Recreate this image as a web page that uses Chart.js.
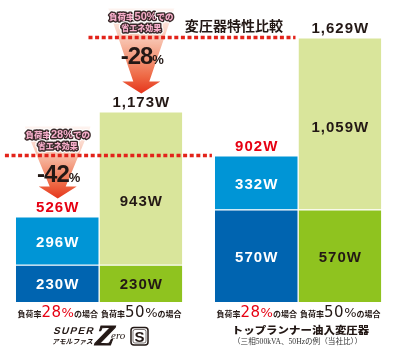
<!DOCTYPE html>
<html><head><meta charset="utf-8">
<script src="https://cdn.jsdelivr.net/npm/chart.js@4/dist/chart.umd.min.js"></script>
<style>html,body{margin:0;padding:0;background:#fff;}canvas{display:block;}</style>
</head><body>
<canvas id="c" width="400" height="360"></canvas>
<script>
// ---- data ----
const categories = ['SUPERアモルファスZero S', 'トップランナー油入変圧器'];
const loadRates = ['28', '50'];
const noLoadLoss28 = [230, 570];
const loadLoss28 = [296, 332];
const noLoadLoss50 = [230, 570];
const loadLoss50 = [943, 1059];
const chartTitle = '変圧器特性比較';
const productNote = '（三相500kVA、50Hzの例（当社比））';

// ---- styles ----
const DARK = '#231815', RED = '#e60012';
const C = { base28: '#0064b0', top28: '#0095d6', base50: '#8fc31f', top50: '#d9e59b' };
const fmt = v => v.toLocaleString('en-US') + 'W';

function measure(ctx, p) { ctx.font = p.font; ctx.letterSpacing = p.ls || '0px'; return ctx.measureText(p.t).width; }
function composite(ctx, parts, x, y, opts) {
  opts = opts || {};
  let total = 0; parts.forEach(p => { p.w = measure(ctx, p); total += p.w; });
  ctx.save();
  ctx.translate(x, y); ctx.scale(opts.sx || 1, 1);
  let cx = -total / 2;
  ctx.textAlign = 'left'; ctx.textBaseline = 'alphabetic';
  parts.forEach(p => {
    ctx.font = p.font; ctx.letterSpacing = p.ls || '0px';
    if (opts.outline) {
      ctx.lineJoin = 'round';
      ctx.strokeStyle = '#ffffff'; ctx.lineWidth = 5; ctx.strokeText(p.t, cx, 0);
      ctx.strokeStyle = '#3a2a2a'; ctx.lineWidth = 2.8; ctx.strokeText(p.t, cx, 0);
    }
    ctx.fillStyle = p.color; ctx.fillText(p.t, cx, 0);
    cx += p.w;
  });
  ctx.restore();
}

const decor = {
  id: 'decor',
  afterDatasetsDraw(chart) {
    const ctx = chart.ctx;
    const m = i => chart.getDatasetMeta(i).data;
    const stacks = [[0, 1], [2, 3]]; // [base, top] dataset indices for each load rate
    const totals = [[], []];
    stacks.forEach((s, k) => categories.forEach((c, j) => {
      totals[k][j] = (k === 0 ? noLoadLoss28[j] + loadLoss28[j] : noLoadLoss50[j] + loadLoss50[j]);
    }));

    // arrows + dotted lines
    stacks.forEach((s, k) => {
      const top0 = m(s[1])[0], top1 = m(s[1])[1];
      const lineY = top1.y;
      const cx = top0.x;
      const topY = lineY - 29, tipY = top0.y - 18, headY = tipY - 12;
      const g = ctx.createLinearGradient(0, topY, 0, tipY);
      g.addColorStop(0, 'rgba(253,236,230,0.6)');
      g.addColorStop(0.45, '#f6b39b');
      g.addColorStop(0.8, '#ee6844');
      g.addColorStop(1, '#e5341b');
      ctx.save();
      ctx.fillStyle = g;
      ctx.beginPath();
      ctx.moveTo(cx - 33, topY); ctx.lineTo(cx + 33, topY);
      ctx.lineTo(cx + 8, headY); ctx.lineTo(cx + 19, headY);
      ctx.lineTo(cx, tipY);
      ctx.lineTo(cx - 19, headY); ctx.lineTo(cx - 8, headY);
      ctx.closePath(); ctx.fill();
      ctx.restore();

      // dotted line
      const x0 = top0.x - top0.width / 2 - 11;
      const x1 = top1.x - top1.width / 2 - 3;
      ctx.save();
      ctx.strokeStyle = '#e2231a'; ctx.lineWidth = 3.5; ctx.setLineDash([4, 2.6]);
      ctx.beginPath(); ctx.moveTo(x0, lineY); ctx.lineTo(x1, lineY); ctx.stroke();
      ctx.restore();

      // effect bubble text
      composite(ctx, [
        { t: '負荷率', font: '900 8.5px "Noto Sans CJK JP"', color: '#f7aecb' },
        { t: loadRates[k] + '%', font: 'bold 11px "Liberation Sans"', color: '#f7aecb' },
        { t: 'での', font: '900 8.5px "Noto Sans CJK JP"', color: '#f7aecb' }
      ], cx, lineY - 17.5, { outline: true });
      composite(ctx, [
        { t: '省エネ効果', font: '900 8px "Noto Sans CJK JP"', color: '#f7aecb' }
      ], cx, lineY - 7, { outline: true });

      // reduction percentage
      const pct = Math.round((1 - totals[k][0] / totals[k][1]) * 100);
      composite(ctx, [
        { t: '-' + pct, font: 'bold 24px "Liberation Sans"', color: DARK, ls: '-1px' },
        { t: '%', font: 'bold 13px "Liberation Sans"', color: DARK }
      ], cx + 1, lineY + 26);
    });

    // segment labels + totals
    ctx.save();
    ctx.textAlign = 'center';
    stacks.forEach((s, k) => categories.forEach((c, j) => {
      const base = m(s[0])[j], top = m(s[1])[j];
      const baseVal = k === 0 ? noLoadLoss28[j] : noLoadLoss50[j];
      const topVal = k === 0 ? loadLoss28[j] : loadLoss50[j];
      const txtCol = k === 0 ? '#ffffff' : DARK;
      ctx.font = 'bold 15px "Liberation Sans"'; ctx.letterSpacing = '1px';
      ctx.textBaseline = 'middle';
      ctx.fillStyle = txtCol;
      ctx.fillText(fmt(baseVal), base.x, (base.y + base.base) / 2 + 2);
      const ty = k === 0 ? (top.y + top.base) / 2 + 2 : top.y + 90;
      ctx.fillText(fmt(topVal), top.x, ty);
      ctx.textBaseline = 'alphabetic';
      ctx.fillStyle = k === 0 ? RED : DARK;
      ctx.fillText(fmt(totals[k][j]), top.x, top.y - 5);

      // bottom load-rate labels
      const col = k === 0 ? RED : DARK;
      composite(ctx, [
        { t: '負荷率', font: 'bold 8px "Noto Sans CJK JP"', color: DARK },
        { t: loadRates[k], font: '15px "DejaVu Sans"', color: col, ls: '0.5px' },
        { t: '%', font: '13px "DejaVu Sans"', color: col },
        { t: 'の場合', font: 'bold 8px "Noto Sans CJK JP"', color: DARK }
      ], top.x, 317);
    }));
    ctx.restore();

    // title
    composite(ctx, [{ t: chartTitle, font: 'bold 13.5px "Noto Sans CJK JP"', color: DARK }], 234, 30.5, { sx: 1.04 });

    // category 1 name + note
    const c1 = (m(0)[1].x + m(2)[1].x) / 2;
    composite(ctx, [{ t: categories[1], font: '900 9.8px "Noto Sans CJK JP"', color: DARK }], c1 + 2, 334, { sx: 1.17 });
    composite(ctx, [{ t: productNote, font: '7.6px "Liberation Serif", "Noto Sans CJK JP"', color: '#333' }], c1 - 1, 343.5);

    // category 0 logo (SUPER アモルファス Zero S)
    const c0 = (m(0)[0].x + m(2)[0].x) / 2;
    const x0 = c0 - 47.5;
    ctx.save();
    ctx.fillStyle = DARK; ctx.textAlign = 'left'; ctx.textBaseline = 'alphabetic';
    ctx.save(); ctx.translate(x0, 334); ctx.transform(1, 0, -0.28, 1, 0, 0);
    ctx.font = '900 10px "Liberation Sans"'; ctx.letterSpacing = '1.3px';
    ctx.fillText('SUPER', 1, 0); ctx.restore();
    ctx.save(); ctx.translate(x0, 343.5); ctx.transform(1, 0, -0.25, 1, 0, 0);
    ctx.font = 'bold 6.8px "Noto Sans CJK JP"'; ctx.letterSpacing = '0px';
    ctx.fillText('アモルファス', 0, 0); ctx.restore();
    ctx.save(); ctx.translate(x0 + 41, 345); ctx.transform(1, 0, -0.3, 1, 0, 0);
    ctx.font = 'bold 29px "Liberation Serif"';
    ctx.strokeStyle = DARK; ctx.lineWidth = 1; ctx.strokeText('Z', 0, 0); ctx.fillText('Z', 0, 0); ctx.restore();
    ctx.font = 'italic 11px "Liberation Serif"';
    ctx.fillText('ero', x0 + 59, 339);
    ctx.strokeStyle = DARK; ctx.lineWidth = 1.5;
    ctx.beginPath(); ctx.roundRect(x0 + 79, 327.5, 17, 17.5, 3); ctx.stroke();
    ctx.lineWidth = 0.6;
    ctx.beginPath(); ctx.roundRect(x0 + 81, 329.5, 13, 13.5, 2); ctx.stroke();
    ctx.font = 'bold 15px "Liberation Sans"'; ctx.textAlign = 'center';
    ctx.fillText('S', x0 + 87.5, 341.5);
    ctx.restore();
  }
};

const bw = { top: 1, right: 1, left: 0, bottom: 0 };
new Chart(document.getElementById('c'), {
  type: 'bar',
  data: {
    labels: categories,
    datasets: [
      { label: '無負荷損 28%', data: noLoadLoss28, stack: 'r28', backgroundColor: C.base28, borderColor: '#fff', borderWidth: bw, borderSkipped: false },
      { label: '負荷損 28%', data: loadLoss28, stack: 'r28', backgroundColor: C.top28, borderColor: '#fff', borderWidth: bw, borderSkipped: false },
      { label: '無負荷損 50%', data: noLoadLoss50, stack: 'r50', backgroundColor: C.base50, borderColor: '#fff', borderWidth: bw, borderSkipped: false },
      { label: '負荷損 50%', data: loadLoss50, stack: 'r50', backgroundColor: C.top50, borderColor: '#fff', borderWidth: bw, borderSkipped: false }
    ]
  },
  options: {
    responsive: false,
    animation: false,
    devicePixelRatio: 1,
    layout: { padding: { left: 0, right: 2, top: 0, bottom: 58 } },
    categoryPercentage: 0.84,
    barPercentage: 1.0,
    plugins: { legend: { display: false }, tooltip: { enabled: false }, title: { display: false } },
    scales: {
      x: { display: false, stacked: true },
      y: { display: false, stacked: true, min: 0, max: 1860 }
    }
  },
  plugins: [decor]
});
</script>
</body></html>
